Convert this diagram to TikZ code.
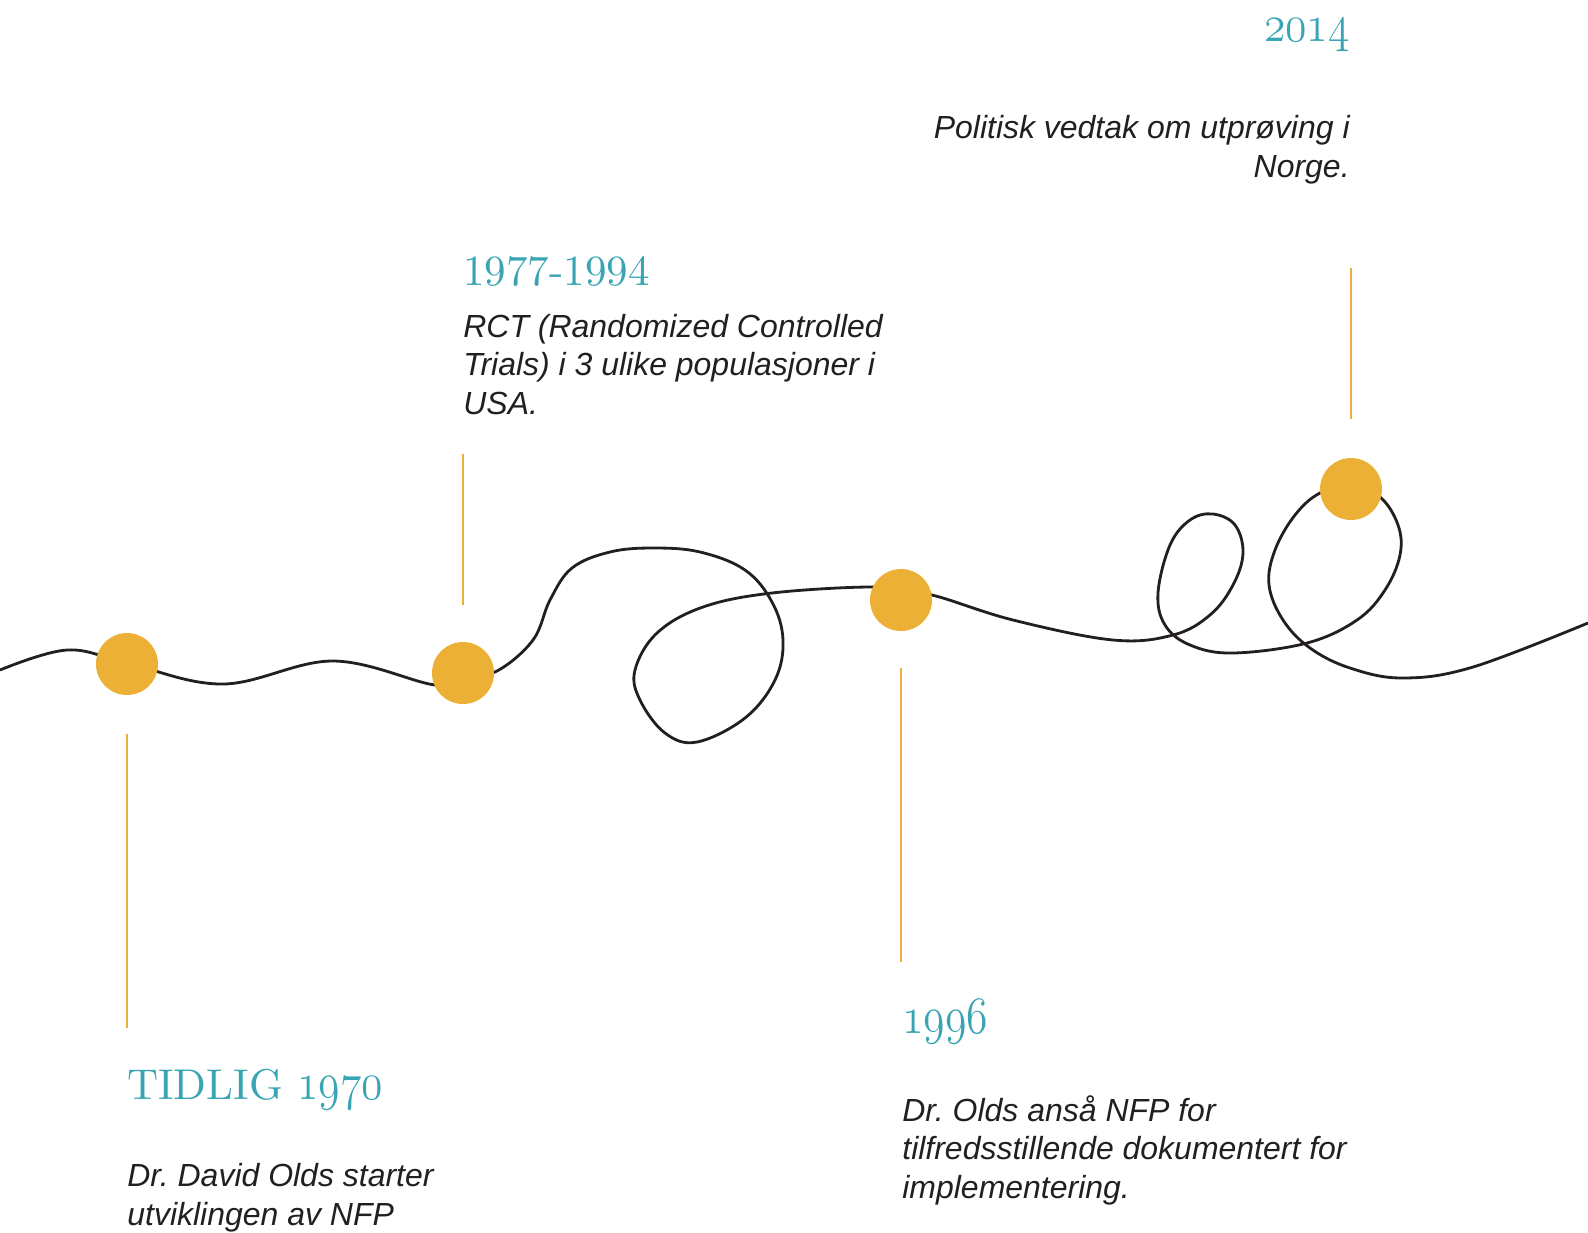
\documentclass[tikz,border=0pt]{standalone}
\usepackage{fontspec}
\setsansfont{Liberation Sans}
\newfontfamily\headfont{lmroman10-regular.otf}
\usetikzlibrary{calc}
\definecolor{timeteal}{RGB}{57,165,180}
\definecolor{dotyellow}{RGB}{235,176,53}
\definecolor{inkblack}{RGB}{35,31,32}
\newcommand\yearfont{\headfont\fontsize{24.5}{30}\selectfont}
\newcommand\osf[1]{\scalebox{1}[1.2]{\usefont{OML}{cmm}{m}{it}\fontsize{25}{30}\selectfont#1}}
\newcommand\notefont{\sffamily\itshape\fontsize{18.2}{21.8}\selectfont\frenchspacing}

\begin{document}
\begin{tikzpicture}[x=0.02cm, y=-0.02cm,
    dot/.style={circle, fill=dotyellow, minimum size=1.24cm, inner sep=0},
    stem/.style={dotyellow, line width=1.3pt},
    wire/.style={inkblack, line width=1.6pt},
    year/.style={text=timeteal, font=\yearfont, inner sep=0},
    note/.style={text=inkblack, font=\notefont, inner sep=0}
  ]
  \useasboundingbox (0,0) rectangle (1588,1232);

  % The winding line
  \draw[wire] plot[smooth, tension=0.62] coordinates {
    (0,670) (67,650) (127,663) (223,684) (333,661) (435,685) (463,677)
    (497,671) (533,640) (550,600) (572,568) (610,552) (653,548)
    (700,552) (745,570) (772,602) (783,640) (775,680) (745,718)
    (697,742) (665,733) (640,700) (635,670) (657,633) (703,607)
    (772,593) (873,587) (901,594) (932,595) (1013,620) (1113,640)
    (1173,635) (1210,615) (1233,585) (1243,553) (1235,525) (1213,514)
    (1190,520) (1170,545) (1158,593) (1165,625) (1190,645) (1233,653)
    (1307,643) (1357,620) (1385,590) (1400,555) (1398,525) (1380,497)
    (1351,486) (1320,493) (1295,515) (1275,550) (1269,585) (1283,620)
    (1310,648) (1350,668) (1403,678) (1473,667) (1588,623)};

  % Milestones
  \node[dot] (d1) at (127,664) {};
  \node[dot] (d2) at (463,673) {};
  \node[dot] (d3) at (901,600) {};
  \node[dot] (d4) at (1351,489) {};

  % Stems
  \draw[stem] ($(d1)+(0,70)$) -- ++(0,294);
  \draw[stem] ($(d2)+(0,-68)$) -- ++(0,-151);
  \draw[stem] ($(d3)+(0,68)$) -- ++(0,294);
  \draw[stem] ($(d4)+(0,-70)$) -- ++(0,-151);

  % Labels
  \node[year, anchor=base west] (y1) at (127,1099) {TIDLIG \osf{1970}};
  \node[note, anchor=base west, align=left] (t1) at (127,1225)
    {Dr. David Olds starter\\utviklingen av NFP};

  \node[year, anchor=base west] (y2) at (463,285) {1977-1994};
  \node[note, anchor=base west, align=left] (t2) at (463,414)
    {RCT (Randomized Controlled\\Trials) i 3 ulike populasjoner i\\USA.};

  \node[year, anchor=base west] (y3) at (902,1033) {\osf{1996}};
  \node[note, anchor=base west, align=left] (t3) at (902,1198)
    {Dr. Olds anså NFP for\\tilfredsstillende dokumentert for\\implementering.};

  \node[year, anchor=base east] (y4) at (1350,41) {\osf{2014}};
  \node[note, anchor=base east, align=right] (t4) at (1350,177)
    {Politisk vedtak om utprøving i\\Norge.};
\end{tikzpicture}
\end{document}
